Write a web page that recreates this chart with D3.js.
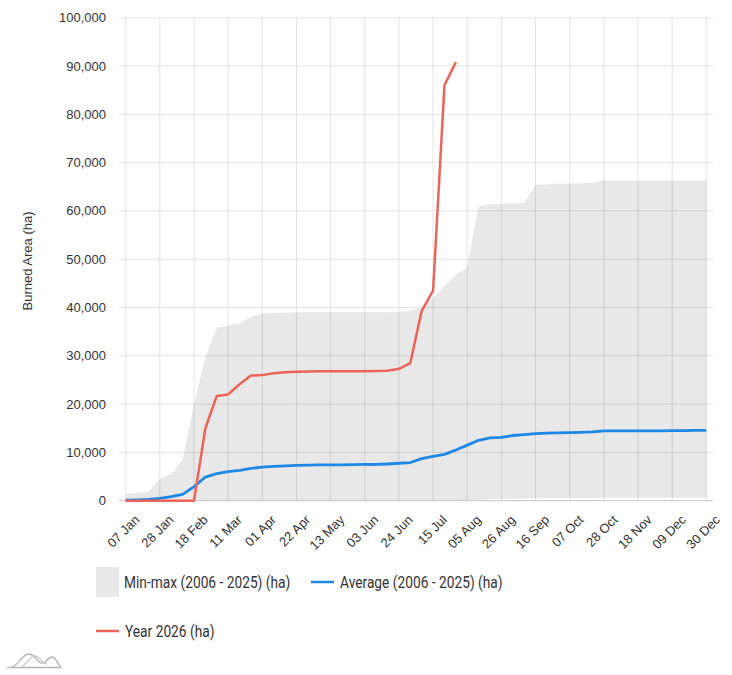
<!DOCTYPE html>
<html>
<head>
<meta charset="utf-8">
<script src="https://cdn.jsdelivr.net/npm/d3@7"></script>
<style>
    html, body { margin: 0; padding: 0; background: #fff; }
    svg { display: block; }
</style>
</head>
<body>
<div id="chart"></div>
<script>
// weekly values, one per week starting 07 Jan
const firstWeek = "2026-01-07"
const maxValues = [1500, 1600, 1800, 4600, 5500, 8500, 20000, 29800, 35800, 36200,
    36700, 38100, 38700, 38800, 38900, 39000, 39000, 39000, 39000, 39000,
    39000, 39000, 39000, 39000, 39100, 39300, 40000, 42000, 44500, 46800,
    48400, 61000, 61400, 61500, 61600, 61700, 65300, 65500, 65600, 65650,
    65700, 65800, 66300, 66300, 66300, 66300, 66300, 66300, 66300, 66300,
    66300, 66300]
const minValues = [0, 0, 0, 0, 0, 0, 0, 0, 0, 0,
    0, 0, 0, 0, 0, 0, 0, 0, 0, 0,
    0, 0, 0, 0, 0, 0, 0, 0, 0, 0,
    100, 200, 300, 350, 400, 450, 500, 550, 550, 550,
    550, 550, 600, 600, 600, 600, 600, 600, 600, 600,
    600, 600]
const avgValues = [100, 150, 250, 500, 850, 1300, 2900, 4900, 5600, 6000,
    6300, 6700, 6950, 7100, 7200, 7300, 7350, 7400, 7400, 7400,
    7450, 7500, 7500, 7600, 7750, 7900, 8700, 9200, 9600, 10500,
    11500, 12500, 13000, 13100, 13500, 13700, 13900, 14000, 14050, 14100,
    14150, 14250, 14450, 14450, 14450, 14450, 14450, 14450, 14500, 14500,
    14550, 14550]
const yearValues = [0, 0, 0, 0, 0, 0, 0, 15000, 21700, 22000,
    24100, 25900, 26000, 26400, 26600, 26700, 26750, 26800, 26800, 26800,
    26800, 26800, 26850, 26900, 27300, 28500, 39300, 43500, 86000, 90800]
const xTickLabels = ["07 Jan", "28 Jan", "18 Feb", "11 Mar", "01 Apr", "22 Apr", "13 May",
    "03 Jun", "24 Jun", "15 Jul", "05 Aug", "26 Aug", "16 Sep", "07 Oct", "28 Oct",
    "18 Nov", "09 Dec", "30 Dec"]
const yTicks = [0, 10000, 20000, 30000, 40000, 50000, 60000, 70000, 80000, 90000, 100000]

const legendItems = [
    { label: "Min-max (2006 - 2025) (ha)", type: "box", color: "#e8e8e8" },
    { label: "Average (2006 - 2025) (ha)", type: "line", color: "#1e88e5" },
    { label: "Year 2026 (ha)", type: "line", color: "#ea6459" }
]

function drawChart() {
    const width = 732, height = 675

    const parse = d3.timeParse("%Y-%m-%d")
    const start = parse(firstWeek)
    const weeks = maxValues.map((d, i) => d3.timeDay.offset(start, i * 7))

    const plotLeft = 119, plotRight = 713
    const x = d3.scaleTime()
        .domain([weeks[0], weeks[weeks.length - 1]])
        .range([125.7, 706.3])
    const y = d3.scaleLinear()
        .domain([0, 100000])
        .range([500.7, 17.7])

    const svg = d3.select("#chart").append("svg")
        .attr("width", width)
        .attr("height", height)

    // min-max band
    const band = weeks.map((d, i) => ({ date: d, lo: minValues[i], hi: maxValues[i] }))
    svg.append("path")
        .datum(band)
        .attr("fill", "#e8e8e8")
        .attr("d", d3.area()
            .x(d => x(d.date))
            .y0(d => y(d.lo))
            .y1(d => y(d.hi)))

    // grid
    const tickDates = xTickLabels.map((d, i) => d3.timeDay.offset(start, i * 21))
    svg.append("g")
        .selectAll("line")
        .data(yTicks)
        .join("line")
            .attr("x1", plotLeft)
            .attr("x2", plotRight)
            .attr("y1", d => y(d))
            .attr("y2", d => y(d))
            .attr("stroke", d => d === 0 ? "#c4c4c4" : "rgba(0,0,0,0.11)")
            .attr("stroke-width", 1)

    svg.append("g")
        .selectAll("line")
        .data(tickDates)
        .join("line")
            .attr("x1", d => x(d))
            .attr("x2", d => x(d))
            .attr("y1", y(100000))
            .attr("y2", y(0))
            .attr("stroke", "rgba(0,0,0,0.11)")
            .attr("stroke-width", 1)

    // y labels
    svg.append("g")
        .selectAll("text")
        .data(yTicks)
        .join("text")
            .attr("x", 106)
            .attr("y", d => y(d))
            .attr("dy", "0.35em")
            .attr("text-anchor", "end")
            .attr("font-family", "Liberation Sans, Arial, sans-serif")
            .attr("font-size", 13)
            .attr("fill", "#333")
            .text(d => d3.format(",")(d))

    // x labels
    svg.append("g")
        .selectAll("text")
        .data(tickDates)
        .join("text")
            .attr("transform", d => `translate(${x(d) + 8},514) rotate(-45)`)
            .attr("dy", "0.72em")
            .attr("text-anchor", "end")
            .attr("font-family", "Liberation Sans, Arial, sans-serif")
            .attr("font-size", 13)
            .attr("fill", "#333")
            .text((d, i) => xTickLabels[i])

    svg.append("text")
        .attr("transform", "translate(27,261) rotate(-90)")
        .attr("dy", "0.35em")
        .attr("text-anchor", "middle")
        .attr("font-family", "Liberation Sans, Arial, sans-serif")
        .attr("font-size", 13)
        .attr("fill", "#333")
        .text("Burned Area (ha)")

    // lines
    const line = d3.line()
        .x(d => x(d.date))
        .y(d => y(d.v))

    svg.append("path")
        .datum(weeks.map((d, i) => ({ date: d, v: avgValues[i] })))
        .attr("fill", "none")
        .attr("stroke", "#1e88e5")
        .attr("stroke-width", 2.8)
        .attr("stroke-linejoin", "round")
        .attr("d", line)

    svg.append("path")
        .datum(yearValues.map((v, i) => ({ date: weeks[i], v: v })))
        .attr("fill", "none")
        .attr("stroke", "#ea6459")
        .attr("stroke-width", 2.5)
        .attr("stroke-linejoin", "round")
        .attr("d", line)

    // legend
    const legendPos = [[96, 582], [311, 582], [96, 631]]
    const legend = svg.append("g")
        .selectAll("g")
        .data(legendItems)
        .join("g")
            .attr("transform", (d, i) => `translate(${legendPos[i][0]},${legendPos[i][1]})`)

    legend.filter(d => d.type === "box")
        .append("rect")
            .attr("x", 0)
            .attr("y", -15)
            .attr("width", 23)
            .attr("height", 30)
            .attr("fill", d => d.color)

    legend.filter(d => d.type === "line")
        .append("line")
            .attr("x1", 0)
            .attr("x2", 23)
            .attr("stroke", d => d.color)
            .attr("stroke-width", 2.5)

    legend.append("text")
        .attr("transform", d => `translate(${d.type === "box" ? 28 : 29},0) scale(0.86,1)`)
        .attr("dy", "0.36em")
        .attr("font-family", "Roboto, sans-serif")
        .attr("font-size", 16)
        .attr("fill", "#333")
        .text(d => d.label)

    // small logo bottom left
    const logo = svg.append("g")
        .attr("fill", "none")
        .attr("stroke", "#b5b5b5")
        .attr("stroke-width", 1.5)
    logo.append("path")
        .attr("d", "M7,667.5 L61,667.5")
    logo.append("path")
        .attr("d", "M12,667 C20,664 22,654 29,654 C35,654 37,663 42,663 C47,663 47,657 52,657 C56,657 57,664 61,667")
    logo.append("path")
        .attr("stroke", "#cfcfcf")
        .attr("d", "M22,667 C28,662 30,656 35,656 C40,656 42,664 47,664")
}

drawChart()
</script>
</body>
</html>
